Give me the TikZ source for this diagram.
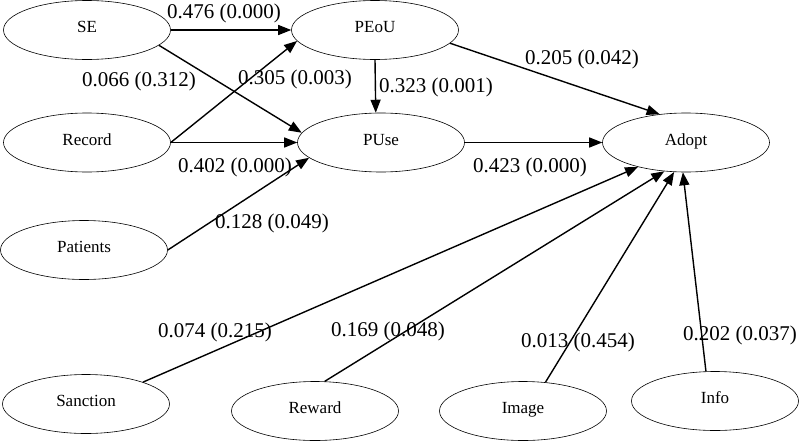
\documentclass[tikz,border=0pt]{standalone}
\usepackage{fontspec}
\setmainfont{Liberation Serif}
\usetikzlibrary{shapes.geometric,arrows.meta}
\begin{document}
\begin{tikzpicture}[x=1pt,y=-1pt,
  var/.style={draw,ellipse,line width=0.6pt,minimum width=167pt,minimum height=59pt,inner sep=0pt,text height=12pt,text depth=7pt,font=\fontsize{17}{20}\selectfont},
  path/.style={line width=1.4pt,-{Triangle[length=13pt,width=10pt]}},
  coef/.style={font=\fontsize{21}{24}\selectfont,inner sep=0pt}]
\useasboundingbox (0,0) rectangle (800,442);
\node[var] (SE) at (87,30) {SE};
\node[var] (PEoU) at (375,30) {PEoU};
\node[var] (Record) at (87,142.5) {Record};
\node[var] (PUse) at (381,142.5) {PUse};
\node[var] (Adopt) at (686,142.5) {Adopt};
\node[var] (Patients) at (84,250) {Patients};
\node[var] (Sanction) at (86,404) {Sanction};
\node[var] (Reward) at (315,411) {Reward};
\node[var] (Image) at (523,411) {Image};
\node[var] (Info) at (715,401) {Info};

\draw[path] (SE.east) -- (PEoU.west);
\draw[path] (SE.-12) -- (PUse.173);
\draw[path] (Record.east) -- (PEoU.188);
\draw[path] (Record.east) -- (PUse.west);
\draw[path] (Patients.east) -- (PUse.192);
\draw[path] (PEoU.south) -- (PUse.100);
\draw[path] (PEoU.-10) -- (Adopt.133);
\draw[path] (PUse.east) -- (Adopt.west);
\draw[path] (Sanction.21) -- (Adopt.207);
\draw[path] (Reward.72) -- (Adopt.233);
\draw[path] (Image.52) -- (Adopt.248);
\draw[path] (Info.107) -- (Adopt.264);

\node[coef] (l1) at (224,13) {0.476 (0.000)};
\node[coef] (l2) at (139,81) {0.066 (0.312)};
\node[coef] (l3) at (295,79) {0.305 (0.003)};
\node[coef] (l4) at (235,167) {0.402 (0.000)};
\node[coef] (l5) at (272,223) {0.128 (0.049)};
\node[coef] (l6) at (436,87) {0.323 (0.001)};
\node[coef] (l7) at (582,59) {0.205 (0.042)};
\node[coef] (l8) at (530,167) {0.423 (0.000)};
\node[coef] (l9) at (215,332) {0.074 (0.215)};
\node[coef] (l10) at (388,331) {0.169 (0.048)};
\node[coef] (l11) at (578,342) {0.013 (0.454)};
\node[coef] (l12) at (740,335) {0.202 (0.037)};
\end{tikzpicture}
\end{document}
